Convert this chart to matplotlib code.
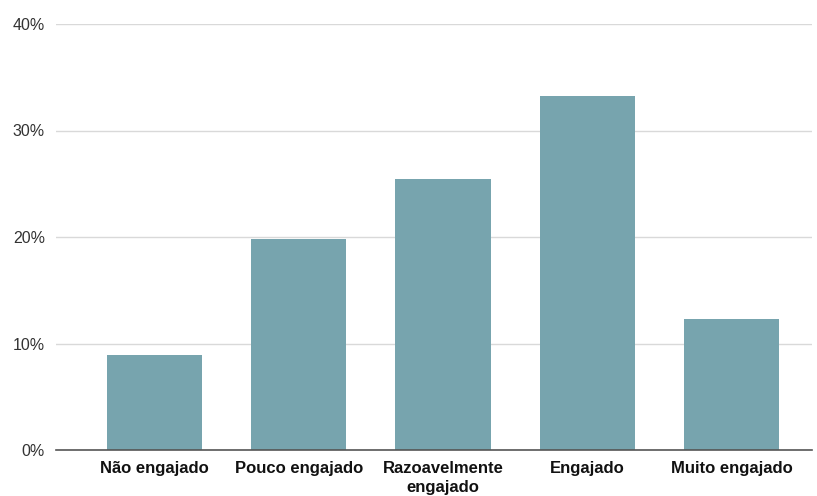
import matplotlib
matplotlib.use("Agg")
import matplotlib.pyplot as plt
from matplotlib.ticker import FuncFormatter

categories = ["Não engajado", "Pouco engajado", "Razoavelmente\nengajado", "Engajado", "Muito engajado"]
values = [8.9, 19.8, 25.4, 33.2, 12.3]
yticks = [0, 10, 20, 30, 40]

plt.rcParams['font.family'] = ['Liberation Sans', 'DejaVu Sans']

W, H = 817, 496
fig = plt.figure(figsize=(W / 100, H / 100), dpi=100)
ax = fig.add_axes([56 / W, 1 - 450 / H, (812 - 56) / W, (450 - 24) / H])

x = list(range(len(categories)))
ax.bar(x, values, width=0.66, color="#77a4ae", zorder=3)

ax.set_ylim(0, 40)
ax.set_xlim(-0.683, 4.558)
ax.set_yticks(yticks)
ax.yaxis.set_major_formatter(FuncFormatter(lambda v, p: f"{v:.0f}%"))
ax.grid(axis="y", color="#d9d9d9", linewidth=1, zorder=0)
for s in ["top", "right", "left"]:
    ax.spines[s].set_visible(False)
ax.spines["bottom"].set_color("#555555")
ax.spines["bottom"].set_linewidth(1.2)
ax.spines["bottom"].set_zorder(4)

ax.set_xticks(x)
ax.set_xticklabels(categories, fontsize=12, fontweight="bold", color="#111111", linespacing=1.3)
ax.tick_params(axis="x", length=0, pad=8)
ax.tick_params(axis="y", length=0, pad=8, labelsize=11.5, labelcolor="#333333")

fig.savefig("out.png", dpi=100)
